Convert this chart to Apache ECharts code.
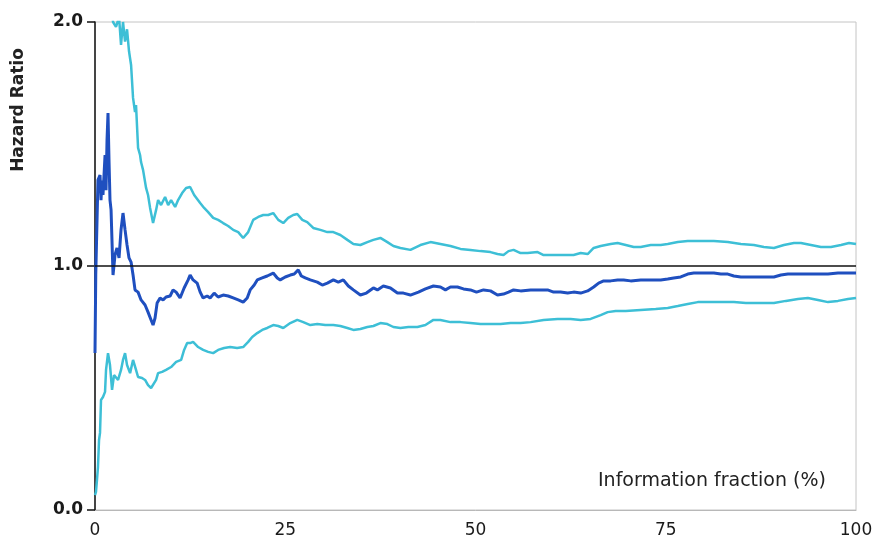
<!DOCTYPE html>
<html>
<head>
<meta charset="utf-8">
<script src="https://cdn.jsdelivr.net/npm/echarts@6/dist/echarts.min.js"></script>
<style>
  html, body { margin: 0; padding: 0; background: #ffffff; }
  #chart { width: 878px; height: 547px; }
</style>
</head>
<body>
<div id="chart"></div>
<script>
// Cumulative hazard ratio with its confidence bounds, by information fraction (%)
const hrFraction = [0, 0.1, 0.26, 0.39, 0.66, 0.79, 0.92, 1.05, 1.32, 1.45, 1.58, 1.71, 1.84, 1.97, 2.11, 2.37, 2.63, 2.89, 3.16, 3.42, 3.68, 3.95, 4.21, 4.47, 4.74, 5.0, 5.26, 5.66, 6.05, 6.58, 6.97, 7.37, 7.63, 7.89, 8.16, 8.55, 8.95, 9.34, 9.87, 10.26, 10.66, 11.18, 11.71, 12.24, 12.5, 12.89, 13.42, 13.82, 14.21, 14.74, 15.13, 15.66, 16.18, 16.84, 17.5, 18.16, 18.82, 19.47, 20.0, 20.39, 20.92, 21.32, 21.97, 22.63, 23.42, 23.95, 24.34, 25.0, 25.66, 26.18, 26.71, 27.11, 27.63, 28.29, 29.21, 29.87, 30.53, 31.32, 31.97, 32.63, 33.29, 33.95, 34.87, 35.66, 36.58, 37.11, 37.89, 38.82, 39.74, 40.53, 41.45, 42.5, 43.42, 44.47, 45.39, 46.05, 46.71, 47.63, 48.42, 49.34, 50.13, 51.05, 51.97, 52.89, 53.68, 54.34, 55.0, 55.92, 57.24, 58.55, 59.47, 60.26, 61.18, 62.11, 62.89, 63.82, 64.74, 65.53, 66.18, 66.84, 67.76, 68.68, 69.47, 70.39, 71.71, 73.03, 74.34, 75.26, 76.05, 76.97, 77.89, 78.68, 80.0, 81.32, 82.24, 83.16, 83.95, 84.87, 86.18, 87.5, 89.21, 90.13, 91.05, 92.37, 93.68, 95.0, 96.32, 97.63, 98.95, 100];
const hazardRatio = [0.643, 0.963, 0.963, 1.352, 1.373, 1.27, 1.35, 1.291, 1.455, 1.311, 1.516, 1.627, 1.434, 1.27, 1.23, 0.963, 1.045, 1.074, 1.033, 1.148, 1.217, 1.148, 1.086, 1.033, 1.016, 0.963, 0.902, 0.893, 0.861, 0.840, 0.811, 0.779, 0.758, 0.787, 0.848, 0.869, 0.861, 0.873, 0.877, 0.902, 0.893, 0.869, 0.910, 0.943, 0.963, 0.943, 0.930, 0.893, 0.869, 0.877, 0.869, 0.889, 0.873, 0.881, 0.877, 0.869, 0.861, 0.852, 0.869, 0.902, 0.922, 0.943, 0.951, 0.959, 0.971, 0.951, 0.943, 0.955, 0.963, 0.967, 0.984, 0.959, 0.951, 0.943, 0.934, 0.922, 0.930, 0.943, 0.934, 0.943, 0.918, 0.902, 0.881, 0.889, 0.910, 0.902, 0.918, 0.910, 0.889, 0.889, 0.881, 0.893, 0.906, 0.918, 0.914, 0.902, 0.914, 0.914, 0.906, 0.902, 0.893, 0.902, 0.898, 0.881, 0.885, 0.893, 0.902, 0.898, 0.902, 0.902, 0.902, 0.893, 0.893, 0.889, 0.893, 0.889, 0.898, 0.914, 0.930, 0.939, 0.939, 0.943, 0.943, 0.939, 0.943, 0.943, 0.943, 0.947, 0.951, 0.955, 0.967, 0.971, 0.971, 0.971, 0.967, 0.967, 0.959, 0.955, 0.955, 0.955, 0.955, 0.963, 0.967, 0.967, 0.967, 0.967, 0.967, 0.971, 0.971, 0.971];

const upperFraction = [0, 0.5, 1.5, 2.11, 2.37, 2.76, 3.16, 3.42, 3.68, 3.95, 4.21, 4.47, 4.74, 5.0, 5.26, 5.39, 5.66, 5.92, 6.05, 6.32, 6.71, 6.97, 7.24, 7.63, 8.03, 8.29, 8.68, 9.21, 9.61, 10.0, 10.53, 10.92, 11.45, 11.97, 12.5, 13.03, 13.82, 14.34, 14.87, 15.53, 16.18, 16.84, 17.5, 18.16, 18.82, 19.47, 20.13, 20.79, 21.45, 22.11, 22.76, 23.42, 24.08, 24.74, 25.39, 26.05, 26.58, 27.24, 27.89, 28.68, 29.61, 30.53, 31.32, 32.24, 33.16, 33.95, 34.87, 35.79, 36.58, 37.5, 38.42, 39.21, 40.13, 41.45, 42.76, 44.08, 45.39, 46.71, 48.03, 49.34, 50.66, 51.97, 52.89, 53.68, 54.34, 55.0, 55.92, 56.84, 58.16, 58.95, 60.26, 61.58, 62.89, 63.82, 64.74, 65.53, 66.45, 67.76, 68.68, 69.74, 70.79, 71.71, 73.03, 74.34, 75.26, 76.58, 77.89, 79.61, 81.32, 83.16, 84.87, 86.58, 87.89, 89.21, 90.53, 91.84, 92.76, 94.08, 95.39, 96.71, 98.03, 99.08, 100];
const upperBound = [3.5, 3.0, 2.4, 2.1, 2.0, 1.98, 2.02, 1.906, 2.0, 1.92, 1.97, 1.88, 1.824, 1.689, 1.631, 1.66, 1.484, 1.455, 1.426, 1.393, 1.320, 1.291, 1.238, 1.176, 1.230, 1.270, 1.25, 1.283, 1.25, 1.27, 1.242, 1.27, 1.299, 1.32, 1.324, 1.291, 1.258, 1.238, 1.221, 1.197, 1.189, 1.176, 1.164, 1.148, 1.139, 1.115, 1.139, 1.189, 1.201, 1.209, 1.209, 1.217, 1.189, 1.176, 1.197, 1.209, 1.213, 1.189, 1.180, 1.156, 1.148, 1.139, 1.139, 1.127, 1.107, 1.090, 1.086, 1.098, 1.107, 1.115, 1.098, 1.082, 1.074, 1.066, 1.086, 1.098, 1.090, 1.082, 1.070, 1.066, 1.061, 1.057, 1.049, 1.045, 1.061, 1.066, 1.053, 1.053, 1.057, 1.045, 1.045, 1.045, 1.045, 1.053, 1.049, 1.074, 1.082, 1.090, 1.094, 1.086, 1.078, 1.078, 1.086, 1.086, 1.090, 1.098, 1.102, 1.102, 1.102, 1.098, 1.090, 1.086, 1.078, 1.074, 1.086, 1.094, 1.094, 1.086, 1.078, 1.078, 1.086, 1.094, 1.090];

const lowerFraction = [0, 0.13, 0.26, 0.39, 0.53, 0.66, 0.79, 1.05, 1.32, 1.45, 1.71, 1.97, 2.24, 2.5, 2.76, 3.03, 3.42, 3.68, 3.95, 4.21, 4.61, 5.0, 5.39, 5.66, 6.18, 6.58, 6.97, 7.37, 7.63, 8.03, 8.29, 8.82, 9.34, 10.0, 10.66, 11.32, 11.71, 12.11, 12.5, 12.89, 13.55, 14.21, 14.87, 15.53, 16.18, 16.97, 17.76, 18.68, 19.47, 20.13, 20.66, 21.32, 21.97, 22.63, 23.42, 24.08, 24.74, 25.66, 26.58, 27.37, 28.29, 29.21, 30.26, 31.32, 32.24, 33.16, 33.95, 34.87, 35.79, 36.58, 37.5, 38.42, 39.21, 40.13, 41.18, 42.37, 43.42, 44.47, 45.39, 46.71, 48.03, 49.34, 50.66, 51.97, 53.29, 54.61, 55.92, 57.24, 58.95, 60.79, 62.5, 63.82, 65.13, 66.45, 67.37, 68.42, 69.74, 71.71, 73.68, 75.26, 76.58, 77.89, 79.21, 80.92, 82.24, 83.95, 85.53, 87.11, 89.21, 90.79, 92.37, 93.68, 95.0, 96.32, 97.63, 98.95, 100];
const lowerBound = [0.061, 0.074, 0.123, 0.176, 0.287, 0.316, 0.451, 0.463, 0.484, 0.574, 0.643, 0.594, 0.492, 0.553, 0.561, 0.533, 0.574, 0.615, 0.643, 0.594, 0.561, 0.615, 0.574, 0.545, 0.541, 0.533, 0.512, 0.5, 0.492, 0.533, 0.561, 0.566, 0.574, 0.586, 0.607, 0.615, 0.656, 0.684, 0.684, 0.689, 0.668, 0.656, 0.648, 0.643, 0.656, 0.664, 0.668, 0.664, 0.668, 0.689, 0.709, 0.725, 0.738, 0.746, 0.758, 0.754, 0.746, 0.766, 0.779, 0.770, 0.758, 0.762, 0.758, 0.758, 0.754, 0.746, 0.738, 0.742, 0.750, 0.754, 0.766, 0.762, 0.750, 0.746, 0.750, 0.750, 0.758, 0.779, 0.779, 0.770, 0.770, 0.766, 0.762, 0.762, 0.762, 0.766, 0.766, 0.770, 0.779, 0.783, 0.783, 0.779, 0.783, 0.799, 0.811, 0.816, 0.816, 0.820, 0.824, 0.828, 0.836, 0.844, 0.852, 0.852, 0.852, 0.852, 0.848, 0.848, 0.848, 0.857, 0.865, 0.869, 0.861, 0.852, 0.857, 0.865, 0.869];

const referenceRatio = 1.0;
const yTicks = ['0.0', '1.0', '2.0'];
const xTicks = ['0', '25', '50', '75', '100'];

const pair = (xs, ys) => xs.map((x, i) => [x, ys[i]]);

const FONT = '"DejaVu Sans", Verdana, sans-serif';
const chart = echarts.init(document.getElementById('chart'), null, { renderer: 'canvas' });

chart.setOption({
  animation: false,
  backgroundColor: '#ffffff',
  grid: {
    left: 95, right: 22, top: 22, bottom: 37,
    show: true, borderColor: '#c4c4c4', borderWidth: 1, backgroundColor: 'transparent'
  },
  xAxis: {
    type: 'value', min: 0, max: 100, interval: 25,
    axisLine: { show: true, lineStyle: { color: '#b8b8b8', width: 1 } },
    axisTick: { show: false },
    splitLine: { show: false },
    axisLabel: {
      color: '#1a1a1a', fontFamily: FONT, fontSize: 17, margin: 12,
      formatter: (v) => xTicks[Math.round(v / 25)]
    }
  },
  yAxis: {
    type: 'value', min: 0, max: 2, interval: 1,
    axisLine: { show: true, lineStyle: { color: '#111111', width: 1.5 } },
    axisTick: { show: true, length: 8, lineStyle: { color: '#111111', width: 1.5 } },
    splitLine: { show: false },
    axisLabel: {
      color: '#1a1a1a', fontFamily: FONT, fontSize: 17, fontWeight: 'bold', margin: 12,
      formatter: (v) => yTicks[Math.round(v)]
    }
  },
  graphic: [
    {
      type: 'text', x: 19, y: 110, rotation: Math.PI / 2,
      style: {
        text: 'Hazard Ratio', fill: '#222222', font: 'bold 17px ' + FONT,
        textAlign: 'center', textVerticalAlign: 'middle'
      }
    },
    {
      type: 'text', x: 598, y: 481,
      style: {
        text: 'Information fraction (%)', fill: '#222222', font: '19px ' + FONT,
        textVerticalAlign: 'middle'
      }
    }
  ],
  series: [
    {
      name: 'Lower bound', type: 'line', data: pair(lowerFraction, lowerBound),
      showSymbol: false, symbol: 'none', clip: true, z: 2,
      lineStyle: { color: '#3dbfd6', width: 2.5 }
    },
    {
      name: 'Upper bound', type: 'line', data: pair(upperFraction, upperBound),
      showSymbol: false, symbol: 'none', clip: true, z: 2,
      lineStyle: { color: '#3dbfd6', width: 2.5 }
    },
    {
      name: 'Hazard ratio', type: 'line', data: pair(hrFraction, hazardRatio),
      showSymbol: false, symbol: 'none', clip: true, z: 3,
      lineStyle: { color: '#1f4fbf', width: 3 },
      markLine: {
        silent: true, symbol: 'none', label: { show: false }, z: 4,
        lineStyle: { color: '#111111', width: 1.5, type: 'solid' },
        data: [{ yAxis: referenceRatio }]
      }
    }
  ]
});
</script>
</body>
</html>
